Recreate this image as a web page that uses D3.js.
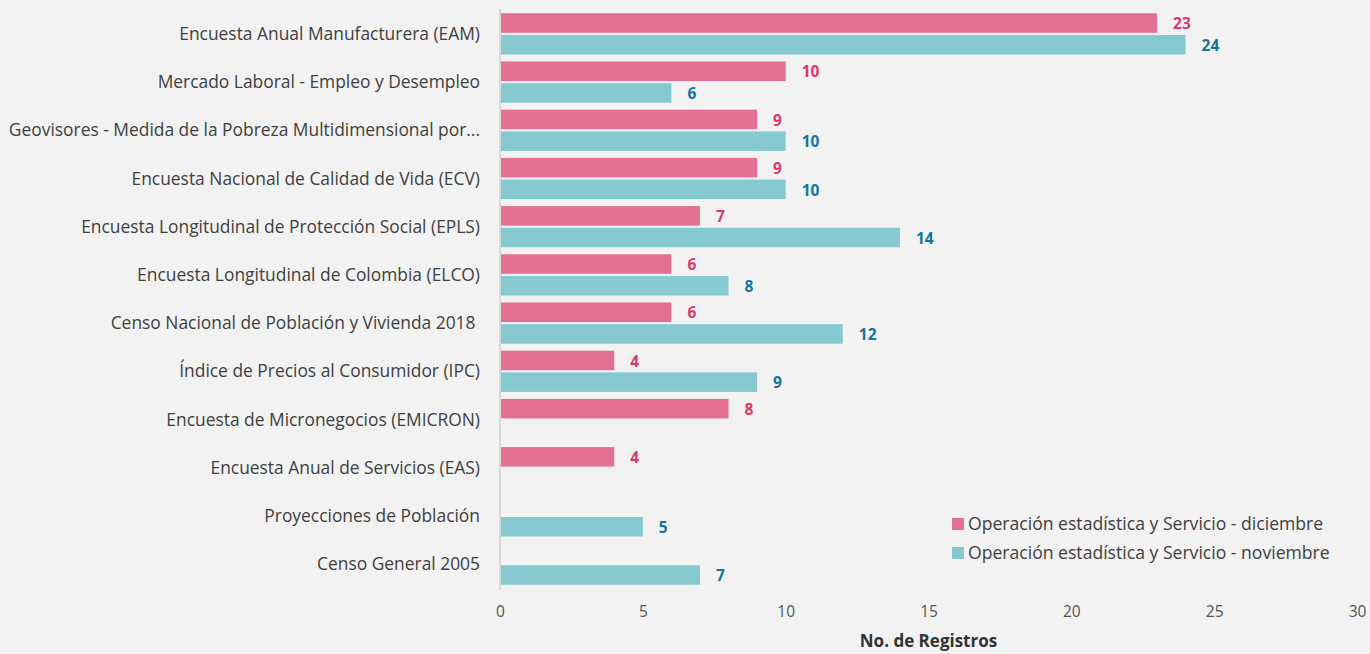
<!DOCTYPE html>
<html>
<head>
<meta charset="utf-8">
<script src="https://cdn.jsdelivr.net/npm/d3@7"></script>
<style>
  body { margin: 0; background: #f2f2f2; }
  svg text { font-family: "Open Sans", "Noto Sans", sans-serif; }
</style>
</head>
<body>
<div id="chart"></div>
<script>
const categories = [
  "Encuesta Anual Manufacturera (EAM)",
  "Mercado Laboral - Empleo y Desempleo",
  "Geovisores - Medida de la Pobreza Multidimensional por...",
  "Encuesta Nacional de Calidad de Vida (ECV)",
  "Encuesta Longitudinal de Protección Social (EPLS)",
  "Encuesta Longitudinal de Colombia (ELCO)",
  "Censo Nacional de Población y Vivienda 2018 ",
  "Índice de Precios al Consumidor (IPC)",
  "Encuesta de Micronegocios (EMICRON)",
  "Encuesta Anual de Servicios (EAS)",
  "Proyecciones de Población",
  "Censo General 2005"
];
const seriesNames = [
  "Operación estadística y Servicio - diciembre",
  "Operación estadística y Servicio - noviembre"
];
const diciembre = [23, 10, 9, 9, 7, 6, 6, 4, 8, 4, null, null];
const noviembre = [24, 6, 10, 10, 14, 8, 12, 9, null, null, 5, 7];
const xTicks = [0, 5, 10, 15, 20, 25, 30];

const barColors = ["#e37093", "#86cad0"];
const labelColors = ["#e0356a", "#13759f"];

const width = 1370, height = 654;
const svg = d3.select("#chart").append("svg")
  .attr("width", width).attr("height", height);

svg.append("rect").attr("width", width).attr("height", height).attr("fill", "#f2f2f2");

const x = d3.scaleLinear().domain([0, 30]).range([500, 1357]);
const y = d3.scaleBand().domain(categories).range([6.3, 591.7])
  .paddingInner(0.145).paddingOuter(0.145);
const ySub = d3.scaleBand().domain(seriesNames).range([0, y.bandwidth()]).paddingInner(0.1);

const rows = categories.map((c, i) => ({ cat: c, vals: [diciembre[i], noviembre[i]] }));

// bars
const groups = svg.append("g").selectAll("g").data(rows).join("g")
  .attr("transform", d => `translate(0,${y(d.cat)})`);

seriesNames.forEach((s, si) => {
  const withVal = groups.filter(d => d.vals[si] != null);
  withVal.append("rect")
    .attr("x", x(0))
    .attr("y", ySub(s))
    .attr("width", d => x(d.vals[si]) - x(0))
    .attr("height", ySub.bandwidth())
    .attr("fill", barColors[si]);
  withVal.append("text")
    .attr("x", d => x(d.vals[si]) + 16)
    .attr("y", ySub(s) + ySub.bandwidth() / 2)
    .attr("dy", "0.4em")
    .attr("font-size", 15.5)
    .attr("font-weight", "bold")
    .attr("fill", labelColors[si])
    .text(d => d.vals[si]);
});

// category labels
svg.append("g").selectAll("text").data(categories).join("text")
  .attr("x", 480)
  .attr("y", d => y(d) + y.bandwidth() / 2)
  .attr("dy", "0.35em")
  .attr("text-anchor", "end")
  .attr("font-size", 17.4)
  .attr("fill", "#404040")
  .style("white-space", "pre")
  .text(d => d);

// axis line
svg.append("line")
  .attr("x1", x(0)).attr("x2", x(0))
  .attr("y1", 9).attr("y2", 590)
  .attr("stroke", "#d9d9d9").attr("stroke-width", 2);

// x axis
const xAxis = svg.append("g")
  .attr("transform", "translate(0,606)")
  .call(d3.axisBottom(x).tickValues(xTicks).tickSize(0).tickPadding(0));
xAxis.select(".domain").remove();
xAxis.selectAll("text")
  .attr("font-size", 15.5)
  .attr("fill", "#555")
  .attr("font-family", null);

svg.append("text")
  .attr("x", x(15))
  .attr("y", 647)
  .attr("text-anchor", "middle")
  .attr("font-size", 17)
  .attr("font-weight", "bold")
  .attr("fill", "#333")
  .text("No. de Registros");

// legend
const legend = svg.append("g").selectAll("g").data(seriesNames).join("g")
  .attr("transform", (d, i) => `translate(952,${518 + i * 29})`);
legend.append("rect")
  .attr("width", 12).attr("height", 12)
  .attr("fill", (d, i) => barColors[i]);
legend.append("text")
  .attr("x", 16).attr("y", 6)
  .attr("dy", "0.35em")
  .attr("font-size", 17.6)
  .attr("fill", "#404040")
  .text(d => d);
</script>
</body>
</html>
